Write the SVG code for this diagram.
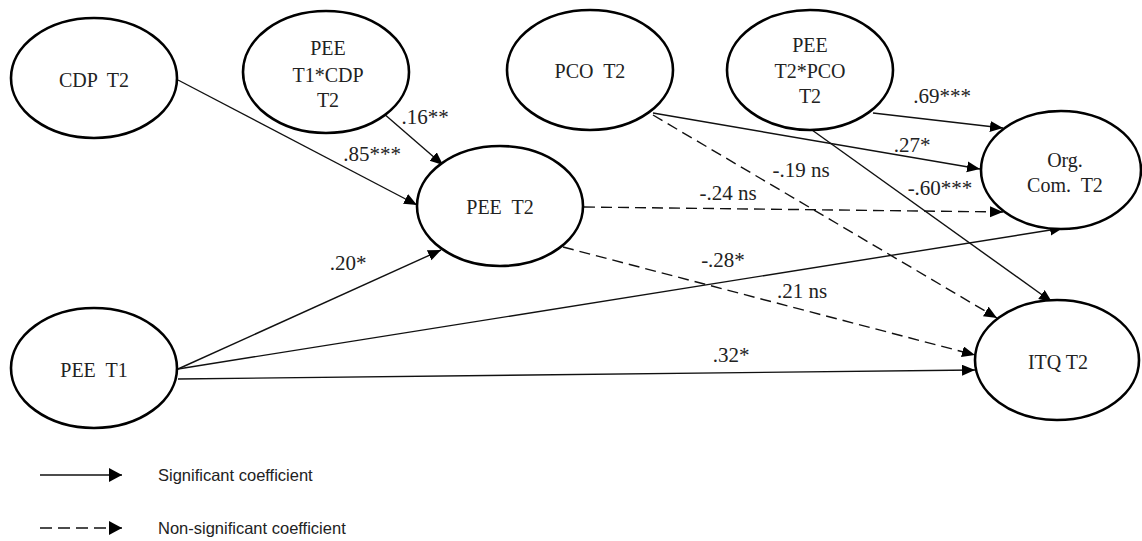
<svg xmlns="http://www.w3.org/2000/svg" width="1142" height="541" viewBox="0 0 1142 541">
<style>
.node ellipse{fill:#fff;stroke:#000;stroke-width:2.6}
.node text{font-family:"Liberation Serif","Times New Roman",serif;font-size:20px;fill:#222;text-anchor:middle;white-space:pre}
.edge{fill:none;stroke:#111;stroke-width:1.4;marker-end:url(#ah)}
.dash{stroke-dasharray:11 6}
.lbl{font-family:"Liberation Serif","Times New Roman",serif;font-size:21px;fill:#222;text-anchor:middle}
.leg{font-family:"Liberation Sans",Arial,sans-serif;font-size:16.5px;fill:#222}
</style>
<defs>
<marker id="ah" markerUnits="userSpaceOnUse" markerWidth="14" markerHeight="12" refX="13" refY="5.5" orient="auto">
<path d="M0,0 L13,5.5 L0,11 z" fill="#000" stroke="none"/>
</marker>
<marker id="ahl" markerUnits="userSpaceOnUse" markerWidth="14" markerHeight="15" refX="13" refY="7" orient="auto">
<path d="M0,0 L13,7 L0,14 z" fill="#000" stroke="none"/>
</marker>
</defs>
<rect width="1142" height="541" fill="#fff"/>
<g id="connectors">
<line class="edge" x1="178" y1="80" x2="417" y2="205"/>
<line class="edge" x1="383" y1="113" x2="443" y2="165"/>
<line class="edge" x1="178" y1="369" x2="441" y2="250"/>
<line class="edge" x1="178" y1="369" x2="1063" y2="228"/>
<line class="edge" x1="178" y1="379" x2="975" y2="370"/>
<line class="edge" x1="653" y1="113" x2="980" y2="169"/>
<line class="edge dash" x1="653" y1="115" x2="997" y2="318"/>
<line class="edge" x1="873" y1="113" x2="1003" y2="128"/>
<line class="edge" x1="812" y1="130" x2="1052" y2="302"/>
<line class="edge dash" x1="584" y1="207" x2="1003" y2="212"/>
<line class="edge dash" x1="563" y1="247" x2="975" y2="355"/>
</g>
<g id="labels">
<text class="lbl" x="372" y="161">.85***</text>
<text class="lbl" x="425" y="124">.16**</text>
<text class="lbl" x="348" y="270">.20*</text>
<text class="lbl" x="723" y="267">-.28*</text>
<text class="lbl" x="731" y="362">.32*</text>
<text class="lbl" x="912" y="152">.27*</text>
<text class="lbl" x="801" y="177">-.19 ns</text>
<text class="lbl" x="942" y="103">.69***</text>
<text class="lbl" x="940" y="195">-.60***</text>
<text class="lbl" x="728" y="200">-.24 ns</text>
<text class="lbl" x="802" y="298">.21 ns</text>
</g>
<g id="cdp_t2" class="node">
<ellipse cx="94" cy="78" rx="83" ry="60"/>
<text x="94" y="87">CDP  T2</text>
</g>
<g id="pee_t1_cdp_t2" class="node">
<ellipse cx="326" cy="72" rx="83" ry="61"/>
<text x="328" y="55">PEE</text>
<text x="328" y="82">T1*CDP</text>
<text x="328" y="107">T2</text>
</g>
<g id="pco_t2" class="node">
<ellipse cx="590" cy="70" rx="83" ry="60"/>
<text x="590" y="78">PCO  T2</text>
</g>
<g id="pee_t2_pco_t2" class="node">
<ellipse cx="810" cy="70" rx="83" ry="60"/>
<text x="810" y="52">PEE</text>
<text x="810" y="78">T2*PCO</text>
<text x="810" y="103">T2</text>
</g>
<g id="org_com_t2" class="node">
<ellipse cx="1061" cy="170" rx="80" ry="59"/>
<text x="1065" y="167">Org.</text>
<text x="1065" y="192">Com.  T2</text>
</g>
<g id="pee_t2" class="node">
<ellipse cx="500" cy="206" rx="83" ry="60"/>
<text x="500" y="214">PEE  T2</text>
</g>
<g id="pee_t1" class="node">
<ellipse cx="94" cy="368" rx="83" ry="60"/>
<text x="94" y="377">PEE  T1</text>
</g>
<g id="itq_t2" class="node">
<ellipse cx="1057" cy="360" rx="82" ry="60"/>
<text x="1058" y="369">ITQ T2</text>
</g>
<g id="legend">
<line x1="40" y1="475" x2="122" y2="475" stroke="#111" stroke-width="1.4" marker-end="url(#ahl)"/>
<text class="leg" x="158" y="481">Significant coefficient</text>
<line x1="40" y1="528" x2="122" y2="528" stroke="#111" stroke-width="1.4" stroke-dasharray="12 6" marker-end="url(#ahl)"/>
<text class="leg" x="158" y="534">Non-significant coefficient</text>
</g>
</svg>
